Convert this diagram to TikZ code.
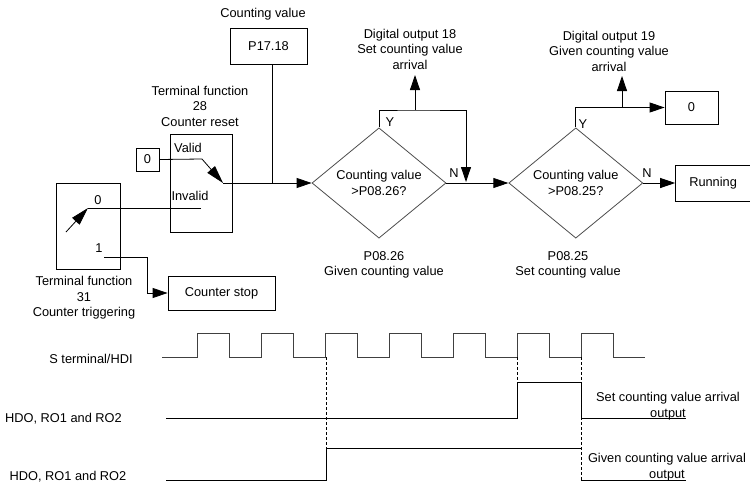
\documentclass[tikz,border=0pt]{standalone}
\usepackage{fontspec}
\setmainfont{Liberation Sans}
\usetikzlibrary{arrows.meta,positioning,shapes.geometric}

\begin{document}
\begin{tikzpicture}[x=1pt,y=-1pt,
every node/.style={font=\fontsize{12.8}{15.5}\selectfont},
box/.style={draw,line width=.8pt,inner sep=0pt,align=center},
decision/.style={diamond,draw=black!70,line width=.8pt,inner sep=0pt,minimum width=134pt,minimum height=102pt,align=center},
lbl/.style={inner sep=0pt,align=center},
con/.style={line width=.8pt},
arr/.style={-{Triangle[length=15pt,width=10pt]},line width=.8pt},
wave/.style={line width=.8pt,black!75},
guide/.style={line width=.6pt,dash pattern=on 3pt off 2pt}]
\useasboundingbox (0,0) rectangle (750,488);
% counter part
\node[box,minimum width=77pt,minimum height=36pt] (cnt) at (268.5,46) {P17.18};
\node[lbl] (cntl) at (263,14) {Counting value};
\node[box,minimum width=62pt,minimum height=98pt] (reset) at (201,183) {};
\node[lbl] (resetl) at (200,106) {Terminal function\\28\\Counter reset};
\node[box,minimum width=23pt,minimum height=23pt] (zero1) at (147.5,159.5) {0};
\node[lbl] (valid) at (188,148) {Valid};
\node[lbl] (invalid) at (190,196) {Invalid};
\node[box,minimum width=64pt,minimum height=86pt] (trig) at (88,226) {};
\node[lbl] (trigl) at (84,298) {Terminal function\\31\\Counter triggering};
\node[lbl] (t0) at (98,200) {0};
\node[lbl] (t1) at (99,248) {1};
\node[box,minimum width=107pt,minimum height=34pt] (stop) at (221.5,293) {Counter stop};
\coordinate (sw) at (223,183);
\coordinate (jn) at (272,183);
\coordinate (vk) at (202,159);
\coordinate (inv) at (201,208);
\coordinate (piv) at (88,208);
\coordinate (lev) at (66,232);
\coordinate (one) at (104,257);
% decisions
\node[decision] (dec1) at (379,183) {Counting value\\>P08.26?};
\node[decision,right=62pt of dec1] (dec2) {Counting value\\>P08.25?};
\node[lbl] (dec1l) at (384,265) {P08.26\\Given counting value};
\node[lbl] (dec2l) at (568,265) {P08.25\\Set counting value};
\node[lbl] (do18) at (410,49) {Digital output 18\\Set counting value\\arrival};
\node[lbl] (do19) at (609,51) {Digital output 19\\Given counting value\\arrival};
\node[box,minimum width=53pt,minimum height=33pt] (zero2) at (691.5,107.5) {0};
\node[box,minimum width=75pt,minimum height=36pt,right=32pt of dec2] (run) {Running};
\node[lbl] (y1) at (390,122) {Y};
\node[lbl] (n1) at (454,173) {N};
\node[lbl] (y2) at (583,124) {Y};
\node[lbl] (n2) at (647,173) {N};
\coordinate (b18) at (415,110);
\coordinate (t18) at (415,75);
\coordinate (b19) at (622,107);
\coordinate (t19) at (622,76);
\draw[con] (cnt.south -| jn) -- (jn);
\draw[con] (zero1.east) -- (vk);
\draw[arr,-{Triangle[length=18pt,width=10pt]}] (vk) -- (sw);
\draw[arr] (sw) -- (dec1.west);
\draw[con] (inv) -- (piv);
\draw[arr,-{Triangle[length=18pt,width=10pt]}] (lev) -- (piv);
\draw[arr] (one) -- ++(43,0) |- (stop.west);
\draw[con] (dec1.north) |- (b18) -- (466,110);
\draw[arr] (466,110) -- (466,182);
\draw[arr] (b18) -- (t18);
\draw[arr] (dec1.east) -- (dec2.west);
\draw[arr] (dec2.north) |- (zero2.west);
\draw[arr] (b19) -- (t19);
\draw[arr] (dec2.east) -- (run.west);
% timing
\node[lbl] (sl) at (91,359) {S terminal/HDI};
\node[lbl] (hl1) at (63.5,419) {HDO, RO1 and RO2};
\node[lbl] (hl2) at (68,477) {HDO, RO1 and RO2};
\node[lbl] (ol1) at (668,406) {Set counting value arrival\\output};
\node[lbl] (ol2) at (667,467) {Given counting value arrival\\output};
\draw[wave] (162,357) foreach \i in {0,...,6} { -- (197+64*\i,357) -- (197+64*\i,333) -- (229+64*\i,333) -- (229+64*\i,357) } -- (645,357);
\draw[wave,black] (166,418) -- (517,418) -- (517,382) -- (581,382) -- (581,418) -- (686,418);
\draw[wave,black] (166,480) -- (326,480) -- (326,448) -- (581,448);
\draw[wave,black] (581,480) -- (686,480);
\draw[guide] (326,357) -- (326,448);
\draw[guide] (517,357) -- (517,382);
\draw[guide] (581,357) -- (581,480);
\end{tikzpicture}
\end{document}
